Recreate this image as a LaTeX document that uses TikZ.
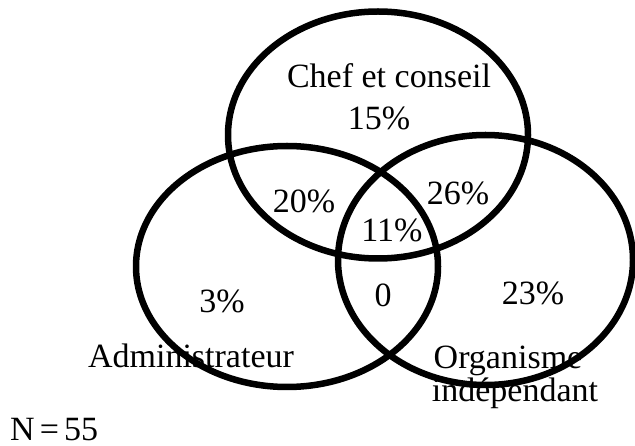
\documentclass[tikz,border=0pt]{standalone}
\usepackage{fontspec}
\setmainfont{Liberation Serif}
\begin{document}
\begin{tikzpicture}[x=1pt, y=-1pt, line join=round, line cap=round,
	font=\fontsize{34}{40}\selectfont,
	lbl/.style={inner sep=0pt, anchor=base}]
	\def \lw{6.5pt};
	\useasboundingbox (0,0) rectangle (635,446);
	% the three sets
	\draw[line width=\lw] (378,135) ellipse [x radius=150, y radius=123.5];
	\draw[line width=\lw] (287,266.5) ellipse [x radius=151, y radius=120.5];
	\draw[line width=\lw] (485.5,260) ellipse [x radius=147.5, y radius=125];
	% labels and shares
	\node[lbl] (chef) at (389,88) {Chef et conseil};
	\node[lbl] (pchef) at (379,130) {15\%};
	\node[lbl] (pca) at (304,213) {20\%};
	\node[lbl] (pall) at (392,242) {11\%};
	\node[lbl] (pco) at (458,205) {26\%};
	\node[lbl] (padm) at (222,313) {3\%};
	\node[lbl] (pao) at (383,307) {0};
	\node[lbl] (porg) at (533,305) {23\%};
	\node[lbl] (adm) at (191,368) {Administrateur};
	\node[lbl] (org) at (508,369) {Organisme};
	\node[lbl] (ind) at (515,402) {indépendant};
	\node[lbl, anchor=base west] (n) at (10,440) {N\kern.15em=\kern.15em55};
\end{tikzpicture}
\end{document}
